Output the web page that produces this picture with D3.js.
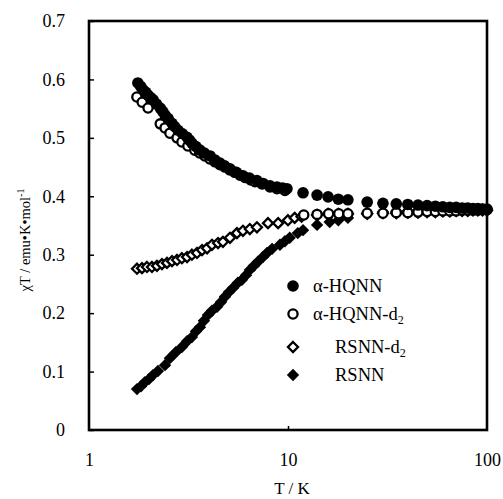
<!DOCTYPE html>
<html><head><meta charset="utf-8">
<script src="https://cdn.jsdelivr.net/npm/d3@7"></script>
<style>body{margin:0;background:#fff}svg text{font-family:"Liberation Serif","Times New Roman",serif !important;fill:#000}</style>
</head><body>
<svg id="c" width="503" height="499"></svg>
<script>
// α-HQNN (filled circles)
const hqnnT = [1.76,1.82,1.87,1.93,1.98,2.04,2.10,2.18,2.28,2.35,2.41,2.50,2.61,2.70,2.80,2.95,3.11,3.20,3.29,3.45,3.61,3.80,4.06,4.30,4.55,4.80,5.11,5.50,5.94,6.40,6.98,7.50,8.12,8.80,9.40,9.88,
  11.9,14.0,15.9,17.9,20,25,30,35,40,45,50,55,60,65,70,75,80,85,90,95,100];
const hqnnV = [0.594,0.588,0.582,0.578,0.573,0.569,0.565,0.558,0.551,0.545,0.539,0.533,0.525,0.519,0.513,0.507,0.501,0.496,0.491,0.485,0.479,0.474,0.469,0.462,0.457,0.452,0.447,0.441,0.435,0.431,0.427,0.422,0.418,0.416,0.414,0.413,
  0.406,0.402,0.399,0.395,0.394,0.390,0.388,0.387,0.386,0.385,0.384,0.383,0.382,0.381,0.381,0.380,0.380,0.379,0.379,0.378,0.378];
// α-HQNN-d2 (open circles)
const hqnnd2T = [1.74,1.85,1.98,2.28,2.41,2.55,2.77,2.93,3.14,3.40,3.60,3.82,4.05,4.30,4.55,4.82,5.10,5.40,5.74,6.10,6.50,6.83,7.40,8.12,8.80,9.65,
  12,14,16,18,20,25,30,35,40,45,50,55,60,65,70,75,80,85,90,95,100];
const hqnnd2V = [0.570,0.561,0.551,0.524,0.517,0.508,0.500,0.493,0.486,0.479,0.474,0.469,0.464,0.459,0.454,0.450,0.445,0.441,0.436,0.432,0.428,0.425,0.421,0.416,0.413,0.410,
  0.368,0.369,0.370,0.370,0.370,0.371,0.371,0.372,0.372,0.373,0.374,0.374,0.375,0.375,0.375,0.376,0.376,0.376,0.376,0.377,0.377];
// RSNN-d2 (open diamonds)
const rsnnd2T = [1.743,1.846,1.956,2.072,2.195,2.326,2.465,2.613,2.77,2.93,3.11,3.29,3.49,3.70,3.92,4.15,4.45,4.71,5.11,5.54,5.94,6.43,6.98,7.93,8.92,10.0,10.8,11.7,14.0,15.9,17.9,20,
  25,30,35,40,45,50,55,60,65,70,75,80,85,90,95,100];
const rsnnd2V = [0.276,0.277,0.279,0.279,0.281,0.284,0.286,0.289,0.291,0.294,0.296,0.300,0.303,0.308,0.311,0.317,0.320,0.322,0.329,0.337,0.341,0.344,0.347,0.354,0.354,0.359,0.363,0.365,0.368,0.370,0.370,0.370,
  0.370,0.371,0.371,0.372,0.372,0.373,0.373,0.374,0.374,0.375,0.375,0.375,0.376,0.376,0.376,0.376];
// RSNN (filled diamonds)
const rsnnT = [1.743,1.825,1.91,2.0,2.097,2.22,2.41,2.55,2.73,2.93,3.11,3.29,3.45,3.61,3.78,3.96,4.15,4.40,4.61,4.82,5.05,5.29,5.60,5.87,6.15,6.43,6.74,7.06,7.48,7.84,8.32,9.11,9.65,10.2,11.2,11.9,14.0,16.2,17.9,20,
  25,30,35,40,45,50,55,60,65,70,75,80,85,90,95,100];
const rsnnV = [0.070,0.075,0.082,0.087,0.094,0.101,0.111,0.123,0.133,0.142,0.152,0.159,0.169,0.176,0.187,0.197,0.204,0.211,0.219,0.228,0.236,0.243,0.252,0.257,0.265,0.274,0.281,0.288,0.296,0.303,0.310,0.317,0.323,0.329,0.337,0.342,0.351,0.356,0.359,0.363,
  0.371,0.373,0.374,0.375,0.375,0.376,0.376,0.377,0.377,0.377,0.377,0.378,0.378,0.378,0.378,0.378];

const xTicks = [1,10,100];
const yTicks = [0,0.1,0.2,0.3,0.4,0.5,0.6,0.7];
const legendNames = ["α-HQNN","α-HQNN-d","RSNN-d","RSNN"];

const svg = d3.select("#c");
const x = d3.scaleLog().domain([1,100]).range([89,487]);
const y = d3.scaleLinear().domain([0,0.7]).range([430,21]);

const diamond = (r)=>`M0,${-r}L${r},0L0,${r}L${-r},0Z`;
const R = {fc:5.8, oc:4.6, od:5.0, fd:6.2};
const SW = 2.3;

function drawSeries(T,V,kind){
  const g = svg.append("g");
  const data = T.map((t,i)=>[t,V[i]]);
  if(kind==="fc"||kind==="oc"){
    g.selectAll("circle").data(data).join("circle")
      .attr("cx",d=>x(d[0])).attr("cy",d=>y(d[1]))
      .attr("r",R[kind])
      .attr("fill",kind==="fc"?"#000":"#fff")
      .attr("stroke","#000").attr("stroke-width",kind==="fc"?0:SW);
  } else {
    g.selectAll("path").data(data).join("path")
      .attr("transform",d=>`translate(${x(d[0])},${y(d[1])})`)
      .attr("d",diamond(R[kind]))
      .attr("fill",kind==="fd"?"#000":"#fff")
      .attr("stroke","#000").attr("stroke-width",kind==="fd"?0:SW);
  }
}
drawSeries(rsnnT,rsnnV,"fd");
drawSeries(rsnnd2T,rsnnd2V,"od");
drawSeries(hqnnd2T,hqnnd2V,"oc");
drawSeries(hqnnT,hqnnV,"fc");

// frame
svg.append("rect").attr("x",89).attr("y",21).attr("width",398).attr("height",409)
  .attr("fill","none").attr("stroke","#000").attr("stroke-width",2.6);

const yAxis = d3.axisLeft(y).tickValues(yTicks).tickSize(-5).tickPadding(24)
  .tickFormat(d=>d===0?"0":d3.format(".1f")(d));
const ya = svg.append("g").attr("transform","translate(89,0)").call(yAxis);
ya.attr("font-family",null);
ya.select(".domain").remove();
ya.selectAll("line").attr("stroke","#000").attr("stroke-width",1.5);
ya.selectAll("text").attr("font-size",18);

const xAxis = d3.axisBottom(x).tickValues(xTicks).tickSize(-4).tickPadding(23).tickFormat(d3.format("d"));
const xa = svg.append("g").attr("transform","translate(0,430)").call(xAxis);
xa.attr("font-family",null);
xa.select(".domain").remove();
xa.selectAll("line").attr("stroke","#000").attr("stroke-width",1.5);
xa.selectAll("text").attr("font-size",18);
xa.selectAll(".tick").filter(d=>d===1||d===100).select("line").remove();

svg.append("text").attr("x",292).attr("y",494).attr("text-anchor","middle").attr("font-size",17).text("T / K");

const yl = svg.append("text").attr("transform","translate(30,240) rotate(-90)").attr("text-anchor","middle").attr("font-size",14.5);
yl.append("tspan").text("χT / emu•K•mol");
yl.append("tspan").attr("dy",-6).attr("font-size",10).text("-1");

// legend
const legY = [286,314,347,375];
const kinds = ["fc","oc","od","fd"];
const legX = [313,313,335,335];
legendNames.forEach((n,i)=>{
  const cx=293, cy=legY[i];
  const k = kinds[i];
  if(k==="fc"||k==="oc") svg.append("circle").attr("cx",cx).attr("cy",cy).attr("r",R[k])
     .attr("fill",k==="fc"?"#000":"#fff").attr("stroke","#000").attr("stroke-width",k==="fc"?0:SW);
  else svg.append("path").attr("transform",`translate(${cx},${cy})`).attr("d",diamond(R[k]))
     .attr("fill",k==="fd"?"#000":"#fff").attr("stroke","#000").attr("stroke-width",k==="fd"?0:SW);
  const t = svg.append("text").attr("x",legX[i]).attr("y",cy+6).attr("font-size",18.5);
  t.append("tspan").text(n);
  if(i===1||i===2) t.append("tspan").attr("dy",4).attr("font-size",12).text("2");
});
</script>
</body></html>
